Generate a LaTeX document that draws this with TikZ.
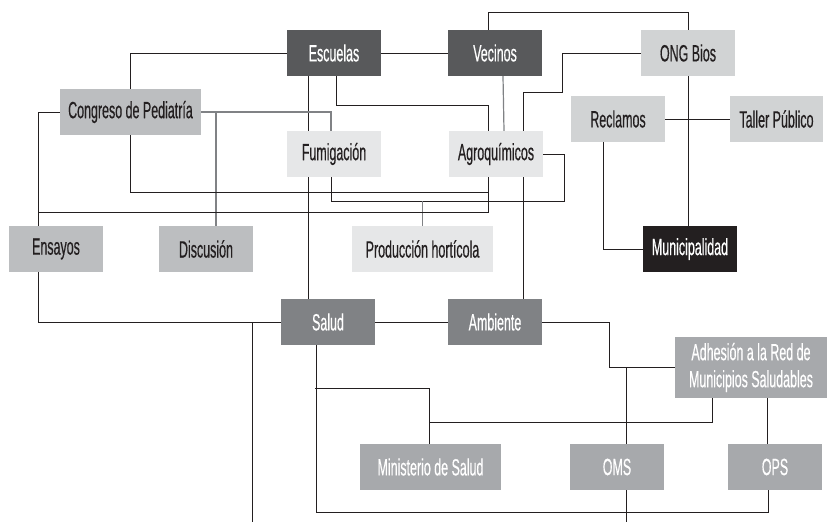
\documentclass[tikz,border=0pt]{standalone}
\usepackage{fontspec}
\usepackage{xcolor}
\newfontfamily\condfont[FakeStretch=0.53,FakeBold=0.4]{Liberation Sans}
\usetikzlibrary{positioning,backgrounds}

\definecolor{inkblack}{HTML}{231F20}
\definecolor{slate}{HTML}{58595B}
\definecolor{midgrey}{HTML}{808285}
\definecolor{grey}{HTML}{A7A9AC}
\definecolor{silver}{HTML}{BCBEC0}
\definecolor{pale}{HTML}{D1D3D4}
\definecolor{paler}{HTML}{E6E7E8}

\begin{document}
\begin{tikzpicture}[x=1pt,y=-1pt,
  every node/.style={rectangle,minimum width=94pt,minimum height=46pt,inner sep=0pt,
    align=center,font=\condfont\fontsize{23.5}{27}\selectfont},
  boxslate/.style={fill=slate,text=white},
  boxblack/.style={fill=inkblack,text=white},
  boxmid/.style={fill=midgrey,text=white},
  boxgrey/.style={fill=grey,text=white},
  boxsilver/.style={fill=silver,text=inkblack},
  boxpale/.style={fill=pale,text=inkblack},
  boxpaler/.style={fill=paler,text=inkblack},
  wide/.style={minimum width=141pt},
  link/.style={draw=inkblack,line width=0.9pt},
  greylink/.style={draw=midgrey,line width=1.2pt}]
  \useasboundingbox (0,0) rectangle (827,522);

  % top row
  \node[boxslate] (escuelas) at (334,53) {Escuelas};
  \node[boxslate] (vecinos) at (495,53) {Vecinos};
  \node[boxpale] (ong) at (688,53) {ONG Bios};
  \node[boxsilver,wide] (congreso) at (130.5,112) {Congreso de Pediatría};
  \node[boxpale] (reclamos) at (618,119) {Reclamos};
  \node[boxpale,minimum width=93pt] (taller) at (776.5,119) {Taller Público};
  \node[boxpaler] (fumig) at (334,154) {Fumigación};
  \node[boxpaler] (agro) at (496,154) {Agroquímicos};
  \node[boxsilver] (ensayos) at (56,249) {Ensayos};
  \node[boxsilver] (discusion) at (206,249) {Discusión};
  \node[boxpaler,wide] (produccion) at (422.5,249) {Producción hortícola};
  \node[boxblack] (munic) at (690,249) {Municipalidad};

  % bottom part
  \node[boxmid] (salud) at (328,322) {Salud};
  \node[boxmid] (ambiente) at (495,322) {Ambiente};
  \node[boxgrey,minimum width=152pt,minimum height=61pt] (adhesion) at (751,367.5)
    {Adhesión a la Red de\\Municipios Saludables};
  \node[boxgrey,wide] (ministerio) at (430.5,467) {Ministerio de Salud};
  \node[boxgrey] (oms) at (617,467) {OMS};
  \node[boxgrey] (ops) at (775,467) {OPS};

  \coordinate (foot1) at (252,522);
  \coordinate (foot2) at (626,522);

  \begin{scope}[on background layer]
    \draw[link] (escuelas.west) -| (congreso.north);
    \draw[link] (escuelas.east) -- (vecinos.west);
    \draw[link] ([xshift=-26pt]escuelas.south) -- ([xshift=-26pt]escuelas.south |- salud.north);
    \draw[link] ([xshift=2pt]escuelas.south) -- ++(0,29) -| ([xshift=-8pt]agro.north);
    \draw[greylink] ([xshift=8pt]vecinos.south) -- ([xshift=8pt]agro.north);
    \draw[link] ([xshift=-7pt]vecinos.north) -- ++(0,-17) -| (ong.north);
    \draw[link] (ong.west) -| ++(-78,39) -| ([xshift=27pt]agro.north);
    \draw[link] ([xshift=27pt]agro.south) -- ([xshift=27pt]agro.south |- ambiente.north);
    \draw[link] (ong.south) -- (ong.south |- munic.north);
    \draw[link] (reclamos.east) -- (taller.west);
    \draw[link] ([xshift=-15pt]reclamos.south) |- (munic.west);

    \draw[greylink] (congreso.east) -| ([xshift=-3pt]fumig.north);
    \draw[greylink] (congreso.east) -| ([xshift=10pt]discusion.north);
    \draw[link] (congreso.south) -- ++(0,57) -| ([xshift=-8pt]agro.south);
    \draw[link] (congreso.west) -| ([xshift=-18pt]ensayos.north);
    \draw[link] ([xshift=-3pt]fumig.south) -- ++(0,24) coordinate (fumigbus)
      -| ([xshift=21pt]agro.east) -- (agro.east);
    \draw[greylink] (produccion.north) -- (produccion.north |- fumigbus);
    \draw[link] ([xshift=-8pt]agro.south) -- ++(0,35) -| ([xshift=-18pt]ensayos.north);

    \draw[link] ([xshift=-18pt]ensayos.south) |- (salud.west);
    \draw[link] (foot1 |- salud.west) -- (foot1);
    \draw[link] (salud.east) -- (ambiente.west);
    \draw[link] (ambiente.east) -| ([xshift=-65pt]adhesion.west) -- (adhesion.west);
    \draw[link] ([xshift=9pt]oms.north |- adhesion.west) -- ([xshift=9pt]oms.north);
    \draw[link] ([xshift=9pt]oms.south) -- (foot2);
    \draw[link] ([xshift=-12pt]salud.south) -- ++(0,167) -| ([xshift=-7pt]ops.south);
    \draw[link] ([xshift=-13pt]salud.south) ++(0,43) -| ([xshift=-1.5pt]ministerio.north);
    \draw[link] ([xshift=-39pt]adhesion.south) -- ++(0,24) -| ([xshift=-1.5pt]ministerio.north);
    \draw[link] ([xshift=16pt]adhesion.south) -- ([xshift=16pt]adhesion.south |- ops.north);
  \end{scope}
\end{tikzpicture}
\end{document}
